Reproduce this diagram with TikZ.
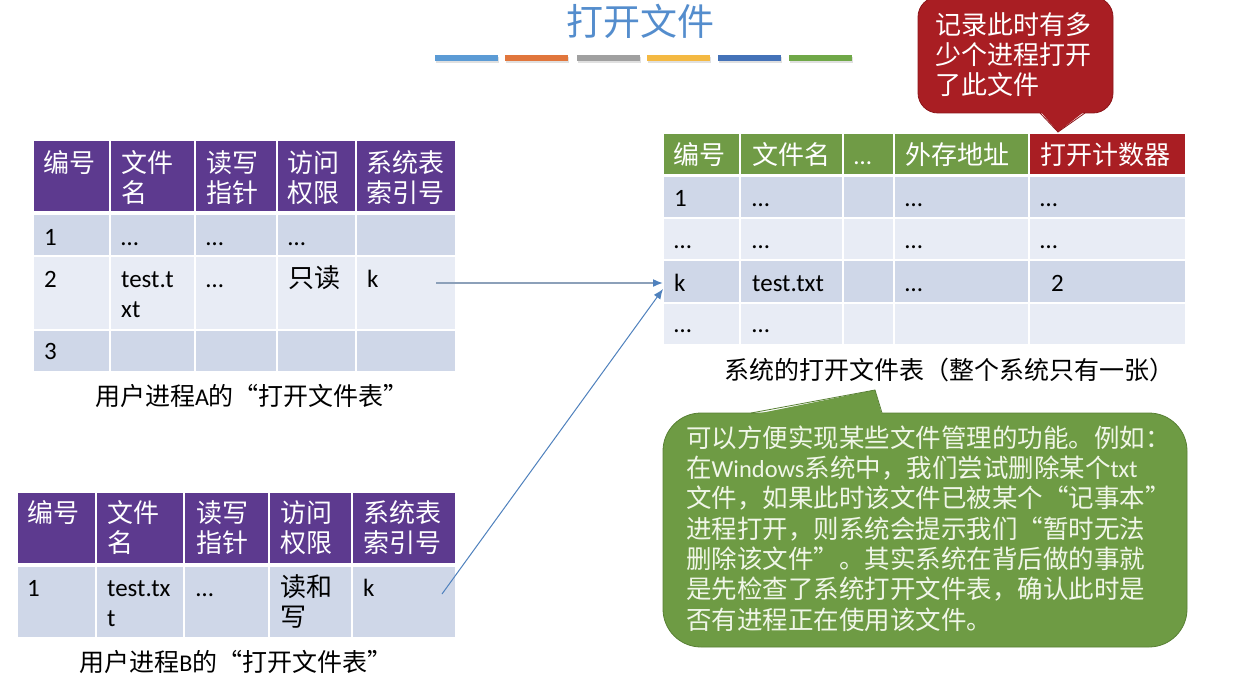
\documentclass[tikz,border=0pt]{standalone}
\usepackage{fontspec}
\setmainfont{Noto Sans CJK SC}
\newfontfamily\lat[Scale=0.96]{Carlito}
\usetikzlibrary{arrows.meta}
\definecolor{hdpurple}{RGB}{93,58,143}
\definecolor{rowdark}{RGB}{207,215,232}
\definecolor{rowlight}{RGB}{232,236,245}
\definecolor{hdgreen}{RGB}{112,155,70}
\definecolor{hdred}{RGB}{169,30,35}
\definecolor{redborder}{RGB}{140,22,26}
\definecolor{cgreen}{RGB}{110,155,68}
\definecolor{cgreenborder}{RGB}{88,128,52}
\definecolor{ctext}{RGB}{240,246,232}
\definecolor{titleblue}{RGB}{84,141,205}
\definecolor{barblue}{RGB}{91,155,213}
\definecolor{barorange}{RGB}{225,118,60}
\definecolor{bargray}{RGB}{160,160,160}
\definecolor{baryellow}{RGB}{244,185,66}
\definecolor{bardblue}{RGB}{68,114,184}
\definecolor{bargreen}{RGB}{112,168,72}
\definecolor{arrowgray}{RGB}{140,160,185}
\definecolor{arrowblue}{RGB}{79,129,189}
\newcommand\fs{\rule{0pt}{24pt}}
\newcommand\cellrow[4]{\foreach \xa/\xb in {#4}{\fill[#1] (\xa+1.2,#2) rectangle (\xb-1.2,#3);}}
\begin{document}
\begin{tikzpicture}[x=1pt,y=-1pt,
  tx/.style={anchor=north west,inner sep=0pt,align=left,font=\fontsize{26}{30}\selectfont},
  hd/.style={tx,text=white},
  captext/.style={anchor=base,inner sep=0pt,font=\fontsize{25}{30}\selectfont}]
\useasboundingbox (0,0) rectangle (1249,682);
\fill[white] (0,0) rectangle (1249,682);
% title
\node[anchor=base,inner sep=0pt,text=titleblue,font=\fontsize{37}{40}\selectfont] (title) at (640,36) {打开文件};
\foreach \x/\c in {435/barblue,505/barorange,577/bargray,647/baryellow,718/bardblue,789/bargreen}{
  \fill[black!12] (\x+1,57) rectangle (\x+64,63.5);
  \fill[\c] (\x,55) rectangle (\x+63,61);}
% ---------- table A
\cellrow{hdpurple}{141}{211}{33/110,110/195,195/277,277/356,356/456}
\cellrow{rowdark}{215}{255}{33/110,110/195,195/277,277/356,356/456}
\cellrow{rowlight}{257}{329}{33/110,110/195,195/277,277/356,356/456}
\cellrow{rowdark}{331}{371}{33/110,110/195,195/277,277/356,356/456}
\node[hd] (ah1) at (43,148) {\fs 编号};
\node[hd] (ah2) at (121,148) {\fs 文件\\名};
\node[hd] (ah3) at (206,148) {\fs 读写\\指针};
\node[hd] (ah4) at (287,148) {\fs 访问\\权限};
\node[hd] (ah5) at (366,148) {\fs 系统表\\索引号};
\node[tx] (a11) at (44,221) {\fs{\lat 1}};
\node[tx] (a12) at (121,221) {\fs{\lat …}};
\node[tx] (a13) at (206,221) {\fs{\lat …}};
\node[tx] (a14) at (288,221) {\fs{\lat …}};
\node[tx] (a21) at (44,263) {\fs{\lat 2}};
\node[tx] (a22) at (121,263) {\fs{\lat test.t}\\{\lat xt}};
\node[tx] (a23) at (206,263) {\fs{\lat …}};
\node[tx] (a24) at (288,263) {\fs 只读};
\node[tx] (a25) at (367,263) {\fs{\lat k}};
\node[tx] (a31) at (44,335) {\fs{\lat 3}};
\node[captext] (capA) at (252,405) {用户进程{\lat A}的“打开文件表”};
% ---------- table B
\cellrow{hdpurple}{493}{563}{17/96,96/184,184/269,269/352,352/456}
\cellrow{rowdark}{567}{637}{17/96,96/184,184/269,269/352,352/456}
\node[hd] (bh1) at (27,498) {\fs 编号};
\node[hd] (bh2) at (107,498) {\fs 文件\\名};
\node[hd] (bh3) at (196,498) {\fs 读写\\指针};
\node[hd] (bh4) at (280,498) {\fs 访问\\权限};
\node[hd] (bh5) at (363,498) {\fs 系统表\\索引号};
\node[tx] (b11) at (27,572) {\fs{\lat 1}};
\node[tx] (b12) at (107,572) {\fs{\lat test.tx}\\{\lat t}};
\node[tx] (b13) at (196,572) {\fs{\lat …}};
\node[tx] (b14) at (280,572) {\fs 读和\\写};
\node[tx] (b15) at (363,572) {\fs{\lat k}};
\node[captext] (capB) at (236,671) {用户进程{\lat B}的“打开文件表”};
% ---------- system table
\cellrow{hdgreen}{134}{174}{663/740,740/843,843/894,894/1029}
\cellrow{hdred}{134}{174}{1029/1186}
\cellrow{rowdark}{177}{217}{663/740,740/843,843/894,894/1029,1029/1186}
\cellrow{rowlight}{219}{259}{663/740,740/843,843/894,894/1029,1029/1186}
\cellrow{rowdark}{261}{302}{663/740,740/843,843/894,894/1029,1029/1186}
\cellrow{rowlight}{304}{344}{663/740,740/843,843/894,894/1029,1029/1186}
\node[hd] (sh1) at (673,140) {\fs 编号};
\node[hd] (sh2) at (752,140) {\fs 文件名};
\node[hd] (sh3) at (854,140) {\fs{\lat …}};
\node[hd] (sh4) at (905,140) {\fs 外存地址};
\node[hd] (sh5) at (1040,140) {\fs 打开计数器};
\node[tx] (s11) at (674,182) {\fs{\lat 1}};
\node[tx] (s12) at (752,182) {\fs{\lat …}};
\node[tx] (s14) at (905,182) {\fs{\lat …}};
\node[tx] (s15) at (1040,182) {\fs{\lat …}};
\node[tx] (s21) at (674,224) {\fs{\lat …}};
\node[tx] (s22) at (752,224) {\fs{\lat …}};
\node[tx] (s24) at (905,224) {\fs{\lat …}};
\node[tx] (s25) at (1040,224) {\fs{\lat …}};
\node[tx] (s31) at (674,267) {\fs{\lat k}};
\node[tx] (s32) at (752,267) {\fs{\lat test.txt}};
\node[tx] (s34) at (905,267) {\fs{\lat …}};
\node[tx] (s35) at (1051,267) {\fs{\lat 2}};
\node[tx] (s41) at (674,308) {\fs{\lat …}};
\node[tx] (s42) at (752,308) {\fs{\lat …}};
\node[captext] (capS) at (949,379) {系统的打开文件表（整个系统只有一张）};
% ---------- arrows
\coordinate (pa) at (436,283);
\coordinate (pb) at (442,594);
\coordinate (ka) at (663,283);
\coordinate (kb) at (663,289);
\draw[arrowgray,line width=1.6pt,-{Latex[length=10pt,width=8pt,color=arrowblue]}] (pa) -- (ka);
\draw[arrowblue,line width=1pt,-{Latex[length=10pt,width=8pt]}] (pb) -- (kb);
% ---------- red callout
\draw[fill=hdred,draw=redborder,line width=0.8pt,rounded corners=20pt] (918,-3) rectangle (1113,113);
\fill[hdred] (1040,111) -- (1058,132) -- (1085,111) -- cycle;
\draw[redborder,line width=0.8pt] (1040,113) -- (1058,132) -- (1085,113);
\node[tx,text=white,font=\fontsize{26}{30}\selectfont] (rtext) at (935,10) {\fs 记录此时有多\\少个进程打开\\了此文件};
% ---------- green callout
\draw[fill=cgreen,draw=cgreenborder,line width=0.8pt,rounded corners=38pt] (663,413) rectangle (1187,647);
\fill[cgreen] (751,415) -- (875,390) -- (882,415) -- cycle;
\draw[cgreenborder,line width=0.8pt] (751,413) -- (875,390) -- (882,413);
\node[tx,text=ctext,font=\fontsize{25.5}{30.3}\selectfont] (gtext) at (686,423) {\fs 可以方便实现某些文件管理的功能。例如：\\在{\lat Windows}系统中，我们尝试删除某个{\lat txt}\\文件，如果此时该文件已被某个“记事本”\\进程打开，则系统会提示我们“暂时无法\\删除该文件”。其实系统在背后做的事就\\是先检查了系统打开文件表，确认此时是\\否有进程正在使用该文件。};
\end{tikzpicture}
\end{document}
